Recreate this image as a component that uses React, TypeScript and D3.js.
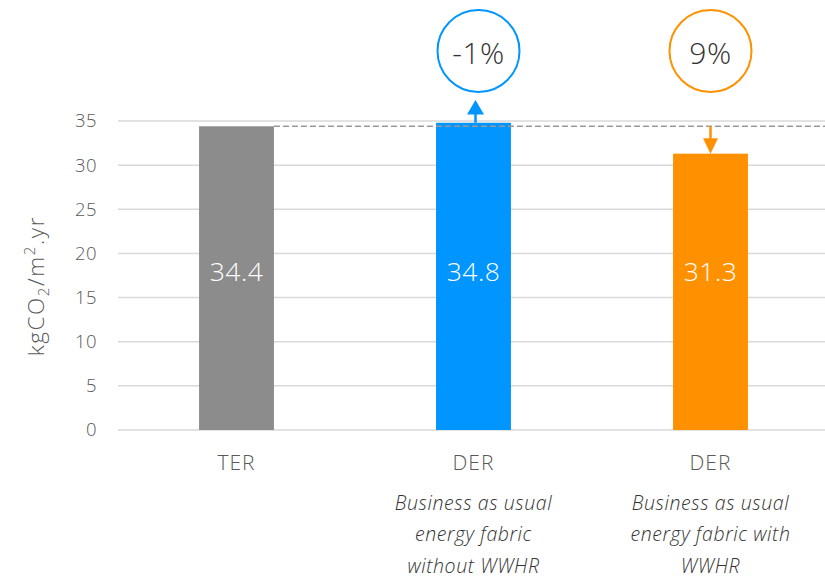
import React from "react";
import * as d3 from "d3";

const categories = ["TER", "DER", "DER"];
const values = [34.4, 34.8, 31.3];
const valueLabels = ["34.4", "34.8", "31.3"];
const subtitles: string[][] = [
  [],
  ["Business as usual", "energy fabric", "without WWHR"],
  ["Business as usual", "energy fabric with", "WWHR"],
];
const changeLabels = ["", "-1%", "9%"];
const yTicks = [0, 5, 10, 15, 20, 25, 30, 35];
const barColors = ["#8c8c8c", "#0095ff", "#ff9100"];

const W = 825;
const H = 578;
const FONT = "'Open Sans', Lato, sans-serif";

export default function App() {
  const y = d3.scaleLinear().domain([0, 35]).range([430, 121]);
  const x = d3
    .scaleBand<number>()
    .domain(d3.range(categories.length))
    .range([118, 829])
    .paddingInner(0.684)
    .paddingOuter(0.342);
  const bw = x.bandwidth();
  const ref = values[0];
  const yRef = y(ref);

  return (
    <svg
      width={W}
      height={H}
      style={{ position: "absolute", left: 0, top: 0, background: "#fff" }}
      fontFamily={FONT}
    >
      {yTicks.map((t) => (
        <line
          key={"g" + t}
          x1={118}
          x2={825}
          y1={y(t)}
          y2={y(t)}
          stroke="#d9d9d9"
          strokeWidth={1.5}
        />
      ))}
      {yTicks.map((t) => (
        <text
          key={"t" + t}
          x={97}
          y={y(t)}
          dy="0.35em"
          textAnchor="end"
          fontSize={18.5}
          fontWeight={300}
          letterSpacing={0.5}
          fill="#595959"
        >
          {t}
        </text>
      ))}
      <text
        transform={`translate(44, ${y(16.3)}) rotate(-90)`}
        textAnchor="middle"
        fontSize={22.5}
        fontWeight={300}
        letterSpacing={1.6}
        fill="#595959"
      >
        <tspan>kgCO</tspan>
        <tspan fontSize={15} dy={5}>2</tspan>
        <tspan dy={-5}>/m</tspan>
        <tspan fontSize={15} dy={-9}>2</tspan>
        <tspan dy={9}>.yr</tspan>
      </text>
      {values.map((v, i) => (
        <rect
          key={"b" + i}
          x={x(i)}
          y={y(v)}
          width={bw}
          height={y(0) - y(v)}
          fill={barColors[i]}
        />
      ))}
      <line
        x1={(x(0) as number) + bw}
        x2={825}
        y1={yRef}
        y2={yRef}
        stroke="#999"
        strokeWidth={1.5}
        strokeDasharray="6,3"
      />
      {values.map((v, i) => (
        <text
          key={"v" + i}
          x={(x(i) as number) + bw / 2}
          y={y(17.9)}
          dy="0.35em"
          textAnchor="middle"
          fontSize={26.5}
          fontWeight={300}
          letterSpacing={0.5}
          fill="#fff"
        >
          {valueLabels[i]}
        </text>
      ))}
      {categories.map((c, i) => (
        <text
          key={"c" + i}
          x={(x(i) as number) + bw / 2}
          y={463}
          dy="0.35em"
          textAnchor="middle"
          fontSize={21}
          fontWeight={300}
          letterSpacing={1}
          fill="#595959"
        >
          {c}
        </text>
      ))}
      {subtitles.map((lines, i) =>
        lines.map((l, j) => (
          <text
            key={"s" + i + "-" + j}
            x={(x(i) as number) + bw / 2}
            y={503 + j * 31.5}
            dy="0.35em"
            textAnchor="middle"
            fontSize={19.5}
            fontStyle="italic"
            fontWeight={300}
            letterSpacing={0.6}
            fill="#333"
          >
            {l}
          </text>
        ))
      )}
      {values.map((v, i) => {
        if (i === 0) return null;
        const cx = (x(i) as number) + bw / 2 + (i === 1 ? 2 : 0);
        const col = barColors[i];
        const up = v > ref;
        const circleX = cx + (i === 1 ? 3 : 0);
        const els: React.ReactNode[] = [];
        els.push(
          <circle
            key="c"
            cx={circleX}
            cy={51}
            r={41}
            fill="#fff"
            stroke={col}
            strokeWidth={2}
          />
        );
        els.push(
          <text
            key="t"
            x={circleX}
            y={53}
            dy="0.35em"
            textAnchor="middle"
            fontSize={30}
            fontWeight={300}
            letterSpacing={0.5}
            fill="#333"
          >
            {changeLabels[i]}
          </text>
        );
        if (up) {
          const top = y(v);
          els.push(
            <line key="l" x1={cx} x2={cx} y1={top} y2={114} stroke={col} strokeWidth={2.5} />
          );
          els.push(
            <path
              key="p"
              d={`M${cx - 8.5},114.5 L${cx + 8.5},114.5 L${cx},100 Z`}
              fill={col}
            />
          );
        } else {
          const tip = y(v);
          els.push(
            <line key="l" x1={cx} x2={cx} y1={yRef} y2={tip - 15} stroke={col} strokeWidth={2.5} />
          );
          els.push(
            <path
              key="p"
              d={`M${cx - 7.5},${tip - 15.5} L${cx + 7.5},${tip - 15.5} L${cx},${tip} Z`}
              fill={col}
            />
          );
        }
        return <g key={"ch" + i}>{els}</g>;
      })}
    </svg>
  );
}
